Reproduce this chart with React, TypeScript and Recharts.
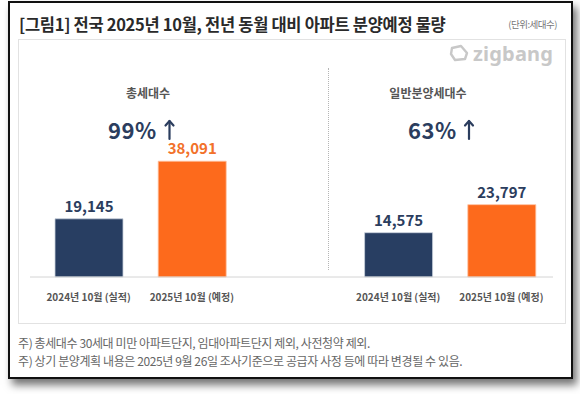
import React from 'react';
import { BarChart, Bar, XAxis, YAxis, Cell } from 'recharts';

const ids = ['t24', 't25', 'gap', 'g24', 'g25'];
const tickLabels = ['2024년 10월 (실적)', '2025년 10월 (예정)', '', '2024년 10월 (실적)', '2025년 10월 (예정)'];
const values: (number | null)[] = [19145, 38091, null, 14575, 23797];
const kinds = ['prev', 'curr', 'none', 'prev', 'curr'];
const panelTitles = ['총세대수', '일반분양세대수'];
const panelRates = ['99%', '63%'];
const footnotes = [
  '주) 총세대수 30세대 미만 아파트단지, 임대아파트단지 제외, 사전청약 제외.',
  '주) 상기 분양계획 내용은 2025년 9월 26일 조사기준으로 공급자 사정 등에 따라 변경될 수 있음.',
];
const titleText = '[그림1] 전국 2025년 10월, 전년 동월 대비 아파트 분양예정 물량';
const unitText = '(단위:세대수)';

const NAVY = '#283e62';
const ORANGE = '#fd6a1c';
const NAVY_TXT = '#2b3d5e';
const ORANGE_TXT = '#f2712a';
const FONT = '"Noto Sans CJK KR", "Noto Sans", sans-serif';

const data = ids.map((id, i) => ({ id, label: tickLabels[i], value: values[i], kind: kinds[i] }));

const renderLabel = (props: any) => {
  const { x, y, width, value, index } = props;
  if (value == null) return null;
  const fill = kinds[index] === 'curr' ? ORANGE_TXT : NAVY_TXT;
  return (
    <text x={x + width / 2} y={y - 7} textAnchor="middle" fill={fill} fontSize={15} fontWeight={700} fontFamily={FONT}>
      {Number(value).toLocaleString('en-US')}
    </text>
  );
};

const Tick = (props: any) => {
  const { x, y, payload } = props;
  const i = ids.indexOf(payload.value);
  return (
    <text x={x} y={y + 16} textAnchor="middle" fill="#555" fontSize={10} fontWeight={600} fontFamily={FONT}>
      {tickLabels[i]}
    </text>
  );
};

const Arrow = ({ x }: { x: number }) => (
  <g stroke={NAVY_TXT} strokeWidth={2.2} fill="none" strokeLinecap="round" strokeLinejoin="round">
    <line x1={x} y1={139} x2={x} y2={121} />
    <polyline points={`${x - 4},${125.5} ${x},${121} ${x + 4},${125.5}`} />
  </g>
);

export default function App() {
  return (
    <div style={{ position: 'absolute', left: 0, top: 0, width: 580, height: 394, background: '#fff', fontFamily: FONT, overflow: 'hidden' }}>
      <div style={{ position: 'absolute', left: 8, top: 1, width: 561, height: 374, border: '2px solid #111', background: '#fff', boxShadow: '4px 6px 8px rgba(0,0,0,0.55)' }} />
      <div style={{ position: 'absolute', left: 18, top: 39, width: 546, height: 283, border: '1px solid #e2e2e2' }} />
      <div style={{ position: 'absolute', left: 448, top: 41, height: 24, display: 'flex', alignItems: 'center', color: '#c8c8c8' }}>
        <svg width={22} height={18} viewBox="0 0 22 18">
          <path d="M4 4 L13 2 L19 9 L17 15 L7 16 L3 10 Z" fill="none" stroke="#c8c8c8" strokeWidth={2.4} strokeLinejoin="round" />
        </svg>
        <span style={{ fontFamily: '"Noto Sans", sans-serif', fontSize: 20, fontWeight: 700, marginLeft: 3, letterSpacing: 0.2 }}>zigbang</span>
      </div>
      <div style={{ position: 'absolute', left: 328, top: 68, height: 202, borderLeft: '1px dotted #b5b5b5' }} />
      <div style={{ position: 'absolute', left: 0, top: 0 }}>
        <BarChart width={580} height={320} data={data} margin={{ top: 125, right: 27, bottom: 13, left: 30 }} barCategoryGap={0}>
          <YAxis hide domain={[0, 50000]} type="number" />
          <XAxis dataKey="id" axisLine={{ stroke: '#d4d4d4' }} tickLine={false} tick={<Tick />} height={30} padding={{ left: 7, right: 0 }} interval={0} />
          <Bar dataKey="value" barSize={68} isAnimationActive={false} label={renderLabel}>
            {data.map((d, i) => (
              <Cell key={i} fill={d.kind === 'curr' ? ORANGE : NAVY} stroke={d.kind === 'curr' ? '#ffc29f' : '#c8d0dc'} strokeWidth={0.8} />
            ))}
          </Bar>
        </BarChart>
      </div>
      <svg width={580} height={394} style={{ position: 'absolute', left: 0, top: 0, pointerEvents: 'none' }} fontFamily={FONT}>
        <text x={19} y={31} fontSize={16.5} fontWeight={700} fill="#2a2a2a" letterSpacing={-0.3}>{titleText}</text>
        <text x={557} y={28} fontSize={9.5} fill="#777" textAnchor="end" letterSpacing={-0.5}>{unitText}</text>
        {[148, 428].map((cx, i) => (
          <text key={'t' + i} x={cx} y={97.5} fontSize={12} fontWeight={700} fill="#555" textAnchor="middle">{panelTitles[i]}</text>
        ))}
        {[108, 408].map((x0, i) => (
          <text key={'r' + i} x={x0} y={138.5} fontSize={22} fontWeight={700} fill={NAVY_TXT} letterSpacing={0.5}>{panelRates[i]}</text>
        ))}
        <Arrow x={169.5} />
        <Arrow x={469} />
        {footnotes.map((t, i) => (
          <text key={'f' + i} x={18} y={347.5 + i * 18} fontSize={12} fill="#666" letterSpacing={-0.4}>{t}</text>
        ))}
      </svg>
    </div>
  );
}
